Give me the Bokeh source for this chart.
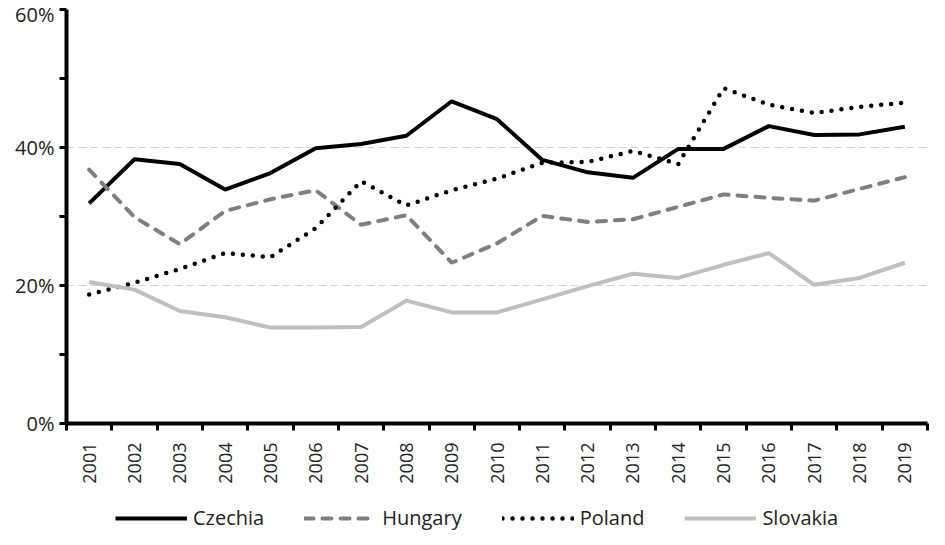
from math import pi

from bokeh.embed import file_html
from bokeh.layouts import column
from bokeh.models import (FixedTicker, Legend, LegendItem, PrintfTickFormatter,
                          Range1d)
from bokeh.plotting import figure
from bokeh.resources import INLINE

# Data (share, in percent)
years = list(range(2001, 2020))
czechia = [31.9, 38.3, 37.6, 33.9, 36.3, 39.9, 40.5, 41.7, 46.7, 44.1,
           38.2, 36.4, 35.6, 39.8, 39.8, 43.1, 41.8, 41.9, 43.0]
hungary = [36.8, 29.9, 26.0, 30.8, 32.5, 33.8, 28.8, 30.2, 23.3, 26.1,
           30.1, 29.2, 29.6, 31.4, 33.2, 32.7, 32.3, 34.0, 35.7]
poland = [18.7, 20.4, 22.4, 24.7, 24.1, 28.3, 35.1, 31.6, 33.8, 35.5,
          37.8, 37.9, 39.5, 37.6, 48.6, 46.2, 45.0, 45.9, 46.5]
slovakia = [20.5, 19.4, 16.3, 15.4, 13.9, 13.9, 14.0, 17.8, 16.1, 16.1,
            18.0, 19.9, 21.7, 21.1, 23.0, 24.7, 20.1, 21.1, 23.3]
names = ["Czechia", "Hungary", "Poland", "Slovakia"]
y_ticks = [0, 20, 40, 60]
y_minor = [10, 30, 50]

FONT = "Open Sans"
series = [czechia, hungary, poland, slovakia]
styles = [
    dict(line_color="black", line_width=4),
    dict(line_color="#7f7f7f", line_width=4, line_dash="9 9", line_cap="round"),
    dict(line_color="black", line_width=4.5, line_dash="0 10", line_cap="round"),
    dict(line_color="#bfbfbf", line_width=4),
]

p = figure(width=929, height=489, output_backend="svg", toolbar_location=None,
           x_range=Range1d(years[0] - 0.5, years[-1] + 0.5),
           y_range=Range1d(0, 60),
           min_border_left=66, min_border_top=9, min_border_right=2,
           min_border_bottom=66)
p.outline_line_color = None
p.xgrid.visible = False

for vals, st in zip(series, styles):
    p.line(years, vals, **st)

# y axis
p.yaxis.ticker = FixedTicker(ticks=y_ticks, minor_ticks=y_minor)
p.yaxis.formatter = PrintfTickFormatter(format="%d%%")
p.yaxis.axis_line_width = 4
p.yaxis.major_tick_in = 0
p.yaxis.major_tick_out = 7
p.yaxis.major_tick_line_width = 3
p.yaxis.minor_tick_in = 0
p.yaxis.minor_tick_out = 7
p.yaxis.minor_tick_line_width = 3
p.yaxis.minor_tick_line_color = "black"
p.yaxis.major_label_text_font = FONT
p.yaxis.major_label_text_font_size = "20px"
p.yaxis.major_label_text_color = "#222222"
p.yaxis.major_label_standoff = 5

p.ygrid.ticker = FixedTicker(ticks=y_ticks)
p.ygrid.grid_line_color = "#d4d4d4"
p.ygrid.grid_line_dash = "8 4"
p.ygrid.grid_line_width = 1

# x axis: labels at the years, tick marks between them
p.xaxis.ticker = FixedTicker(ticks=years,
                             minor_ticks=[y - 0.5 for y in years] + [years[-1] + 0.5])
p.xaxis.major_label_overrides = {y: str(y) for y in years}
p.xaxis.major_label_orientation = pi / 2
p.xaxis.axis_line_width = 4
p.xaxis.major_tick_in = 0
p.xaxis.major_tick_out = 0
p.xaxis.minor_tick_in = 0
p.xaxis.minor_tick_out = 7
p.xaxis.minor_tick_line_width = 3
p.xaxis.minor_tick_line_color = "black"
p.xaxis.major_label_text_font = FONT
p.xaxis.major_label_text_font_size = "18px"
p.xaxis.major_label_text_color = "#222222"
p.xaxis.major_label_standoff = 12

# legend strip below the chart (lines fall outside its range, only legend shows)
lf = figure(width=929, height=42, output_backend="svg", toolbar_location=None,
            x_axis_type=None, y_axis_type=None, min_border=0,
            x_range=Range1d(0, 1), y_range=Range1d(0, 1))
lf.outline_line_color = None
lf.grid.visible = False
items = []
for name, vals, st in zip(names, series, styles):
    r = lf.line(years, vals, **st)
    items.append(LegendItem(label=name, renderers=[r]))

legend = Legend(items=items, orientation="horizontal", location=(49, 0))
legend.glyph_width = 72
legend.glyph_height = 24
legend.label_standoff = 6
legend.spacing = 40
legend.padding = 0
legend.margin = 0
legend.border_line_color = None
legend.background_fill_alpha = 0
legend.label_text_font = FONT
legend.label_text_font_size = "20px"
legend.label_text_color = "#222222"
lf.add_layout(legend)

open("out.html", "w").write(file_html(column(p, lf, spacing=0), INLINE))
